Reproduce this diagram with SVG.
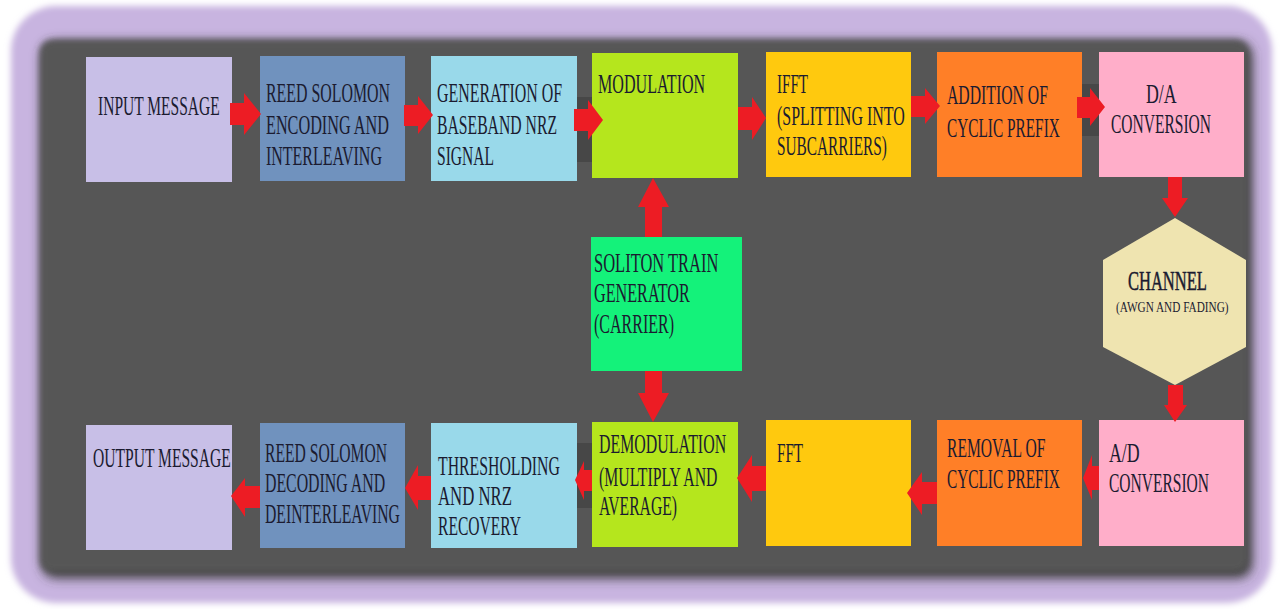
<svg xmlns="http://www.w3.org/2000/svg" width="1281" height="609" viewBox="0 0 1281 609">
  <defs>
    <filter id="soft" x="-5%" y="-5%" width="110%" height="110%">
      <feGaussianBlur stdDeviation="3"/>
    </filter>
    <filter id="shadow" x="-5%" y="-5%" width="110%" height="110%">
      <feGaussianBlur stdDeviation="6"/>
    </filter>
  </defs>
  <style>
    .box { stroke: none; }
    .lbl { font-family: "Liberation Serif", "Times New Roman", serif; font-size: 27px; fill: #1b1b30; }
    .sm { font-size: 15px; }
    .arrow { fill: #ed1c24; }
    .notch { fill: #474747; }
  </style>

  <!-- page and frame -->
  <rect x="0" y="0" width="1281" height="609" fill="#ffffff"/>
  <rect x="11" y="6" width="1261" height="597" rx="45" fill="#c8b4e0" filter="url(#soft)"/>
  <rect x="42" y="42" width="1210" height="536" rx="14" fill="#3a3a3a" filter="url(#shadow)"/>
  <rect x="40" y="40" width="1208" height="532" rx="12" fill="#565656" filter="url(#soft)"/>

  <!-- dark patches behind some arrows -->
  <g id="notches">
    <rect class="notch" x="573" y="97" width="28" height="65"/>
    <rect class="notch" x="1077" y="84" width="26" height="52"/>
    <rect class="notch" x="575" y="443" width="19" height="65"/>
  </g>

  <!-- transmitter row -->
  <g id="input-message">
    <rect class="box" x="86" y="57" width="146" height="125" fill="#c8bfe7"/>
    <text class="lbl" transform="translate(98,115) scale(0.575,1)">INPUT MESSAGE</text>
  </g>
  <g id="rs-encoding">
    <rect class="box" x="260" y="56" width="145" height="125" fill="#7092be"/>
    <text class="lbl" transform="translate(266,102) scale(0.589,1)">REED SOLOMON</text>
    <text class="lbl" transform="translate(266,134) scale(0.601,1)">ENCODING AND</text>
    <text class="lbl" transform="translate(266,165) scale(0.592,1)">INTERLEAVING</text>
  </g>
  <g id="nrz-generation">
    <rect class="box" x="431" y="56" width="146" height="125" fill="#99d9ea"/>
    <text class="lbl" transform="translate(437,102) scale(0.59,1)">GENERATION OF</text>
    <text class="lbl" transform="translate(437,134) scale(0.582,1)">BASEBAND NRZ</text>
    <text class="lbl" transform="translate(437,165) scale(0.576,1)">SIGNAL</text>
  </g>
  <g id="modulation">
    <rect class="box" x="592" y="53" width="146" height="125" fill="#b5e61d"/>
    <text class="lbl" transform="translate(598,93) scale(0.596,1)">MODULATION</text>
  </g>
  <g id="ifft">
    <rect class="box" x="766" y="52" width="145" height="125" fill="#ffc90e"/>
    <text class="lbl" transform="translate(777,93) scale(0.56,1)">IFFT</text>
    <text class="lbl" transform="translate(777,125) scale(0.591,1)">(SPLITTING INTO</text>
    <text class="lbl" transform="translate(777,155) scale(0.568,1)">SUBCARRIERS)</text>
  </g>
  <g id="cp-addition">
    <rect class="box" x="937" y="52" width="145" height="125" fill="#ff7f27"/>
    <text class="lbl" transform="translate(947,104) scale(0.583,1)">ADDITION OF</text>
    <text class="lbl" transform="translate(947,137) scale(0.568,1)">CYCLIC PREFIX</text>
  </g>
  <g id="da-conversion">
    <rect class="box" x="1099" y="52" width="145" height="125" fill="#ffaec9"/>
    <text class="lbl" transform="translate(1146,103) scale(0.66,1)">D/A</text>
    <text class="lbl" transform="translate(1111,133) scale(0.575,1)">CONVERSION</text>
  </g>

  <!-- carrier and channel -->
  <g id="soliton-generator">
    <rect class="box" x="591" y="237" width="151" height="134" fill="#14f27a"/>
    <text class="lbl" transform="translate(594,272) scale(0.611,1)">SOLITON TRAIN</text>
    <text class="lbl" transform="translate(594,302) scale(0.599,1)">GENERATOR</text>
    <text class="lbl" transform="translate(594,333) scale(0.593,1)">(CARRIER)</text>
  </g>
  <g id="channel">
    <polygon points="1175,218 1246,260 1246,347 1175,385 1103,347 1103,260" fill="#efe4b0"/>
    <text class="lbl" transform="translate(1128,290) scale(0.612,1)" stroke="#1b1b30" stroke-width="0.5">CHANNEL</text>
    <text class="lbl sm" transform="translate(1116,312) scale(0.75,1)">(AWGN AND FADING)</text>
  </g>

  <!-- receiver row -->
  <g id="output-message">
    <rect class="box" x="86" y="425" width="146" height="125" fill="#c8bfe7"/>
    <text class="lbl" transform="translate(93,467) scale(0.577,1)">OUTPUT MESSAGE</text>
  </g>
  <g id="rs-decoding">
    <rect class="box" x="260" y="423" width="145" height="125" fill="#7092be"/>
    <text class="lbl" transform="translate(265,462) scale(0.579,1)">REED SOLOMON</text>
    <text class="lbl" transform="translate(265,492) scale(0.587,1)">DECODING AND</text>
    <text class="lbl" transform="translate(265,523) scale(0.582,1)">DEINTERLEAVING</text>
  </g>
  <g id="nrz-recovery">
    <rect class="box" x="431" y="423" width="146" height="125" fill="#99d9ea"/>
    <text class="lbl" transform="translate(438,475) scale(0.585,1)">THRESHOLDING</text>
    <text class="lbl" transform="translate(438,505) scale(0.621,1)">AND NRZ</text>
    <text class="lbl" transform="translate(438,535) scale(0.577,1)">RECOVERY</text>
  </g>
  <g id="demodulation">
    <rect class="box" x="592" y="422" width="146" height="125" fill="#b5e61d"/>
    <text class="lbl" transform="translate(599,453) scale(0.589,1)">DEMODULATION</text>
    <text class="lbl" transform="translate(599,486) scale(0.584,1)">(MULTIPLY AND</text>
    <text class="lbl" transform="translate(599,515) scale(0.58,1)">AVERAGE)</text>
  </g>
  <g id="fft">
    <rect class="box" x="766" y="420" width="145" height="126" fill="#ffc90e"/>
    <text class="lbl" transform="translate(777,462) scale(0.56,1)">FFT</text>
  </g>
  <g id="cp-removal">
    <rect class="box" x="937" y="420" width="145" height="126" fill="#ff7f27"/>
    <text class="lbl" transform="translate(947,457) scale(0.578,1)">REMOVAL OF</text>
    <text class="lbl" transform="translate(947,488) scale(0.568,1)">CYCLIC PREFIX</text>
  </g>
  <g id="ad-conversion">
    <rect class="box" x="1099" y="420" width="145" height="126" fill="#ffaec9"/>
    <text class="lbl" transform="translate(1109,462) scale(0.66,1)">A/D</text>
    <text class="lbl" transform="translate(1109,492) scale(0.575,1)">CONVERSION</text>
  </g>

  <!-- block arrows -->
  <g id="connectors">
    <polygon class="arrow" points="230,103 244,103 244,93 261,114 244,135 244,125 230,125"/>
    <polygon class="arrow" points="404,105 418,105 418,96 433,115 418,134 418,126 404,126"/>
    <polygon class="arrow" points="574,109 588,109 588,100 603,120 588,140 588,131 574,131"/>
    <polygon class="arrow" points="738,107 752,107 752,97 766,118 752,140 752,130 738,130"/>
    <polygon class="arrow" points="911,96 925,96 925,88 940,106 925,124 925,117 911,117"/>
    <polygon class="arrow" points="1077,97 1090,97 1090,88 1105,107 1090,126 1090,118 1077,118"/>

    <polygon class="arrow" points="1168,177 1182,177 1182,198 1188,198 1175,217 1162,198 1168,198"/>
    <polygon class="arrow" points="653,178 669,207 662,207 662,237 645,237 645,207 638,207"/>
    <polygon class="arrow" points="645,371 662,371 662,393 669,393 653,422 638,393 645,393"/>
    <polygon class="arrow" points="1168,385 1183,385 1183,405 1187,405 1175,422 1164,405 1168,405"/>

    <polygon class="arrow" points="1099,466 1092,466 1092,455 1083,478 1092,500 1092,490 1099,490"/>
    <polygon class="arrow" points="937,482 922,482 922,472 907,493 922,515 922,504 937,504"/>
    <polygon class="arrow" points="766,466 752,466 752,455 737,478 752,502 752,491 766,491"/>
    <polygon class="arrow" points="592,470 584,470 584,461 575,480 584,500 584,491 592,491"/>
    <polygon class="arrow" points="431,476 418,476 418,465 405,488 418,510 418,500 431,500"/>
    <polygon class="arrow" points="260,486 245,486 245,478 231,496 245,517 245,508 260,508"/>
  </g>
</svg>
